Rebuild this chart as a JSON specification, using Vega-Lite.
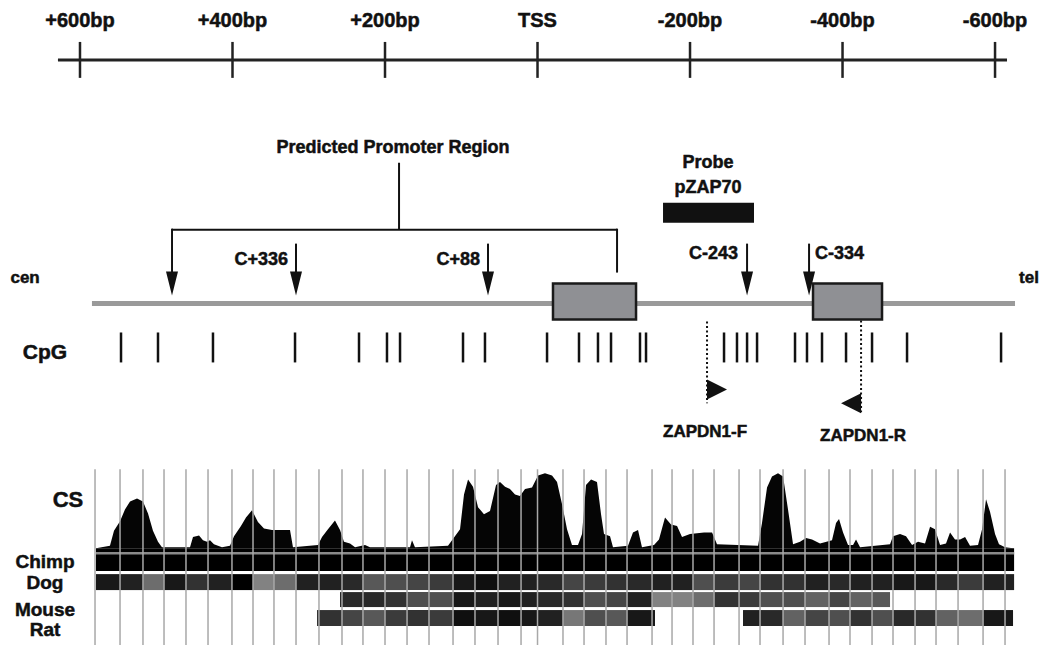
{
"$schema": "https://vega.github.io/schema/vega-lite/v6.json",
"width": 1043, "height": 646,
"autosize": {"type": "fit", "contains": "padding"},
"padding": 0,
"background": "white",
"config": {"view": {"stroke": null}, "text": {"font": "Liberation Sans", "fontWeight": "bold", "color": "#111", "baseline": "alphabetic", "stroke": "#111", "strokeWidth": 0.5}},
"datasets": {
 "ruler": [{"from": 628.9, "to": -615.7}],
 "scale_ticks": [{"bp":600,"label":"+600bp"},{"bp":400,"label":"+400bp"},{"bp":200,"label":"+200bp"},{"bp":0,"label":"TSS"},{"bp":-200,"label":"-200bp"},{"bp":-400,"label":"-400bp"},{"bp":-600,"label":"-600bp"}],
 "promoter": [{"start": 479.3, "end": -104.3, "mid": 181.6, "label_bp": 189.5, "label": "Predicted Promoter Region"}],
 "sites": [{"bp":316.7,"label":"C+336"},{"bp":64.9,"label":"C+88"},{"bp":-274.8,"label":"C-243"},{"bp":-356.1,"label":"C-334"}],
 "probe": [{"start": -164.6, "end": -283.9, "mid": -223.6, "title": "Probe", "name": "pZAP70"}],
 "gene": [{"start": 584.3, "end": -626.2}],
 "exons": [{"start": -20.3, "end": -129.2, "exon": 1}, {"start": -361.3, "end": -451.8, "exon": 2}],
 "ends": [{"bp": 672.0, "label": "cen"}, {"bp": -644.6, "label": "tel"}],
 "cpg": [{"bp":546.2},{"bp":497.7},{"bp":425.6},{"bp":318.0},{"bp":234.1},{"bp":197.4},{"bp":180.3},{"bp":97.7},{"bp":68.9},{"bp":-12.5},{"bp":-54.4},{"bp":-79.3},{"bp":-96.4},{"bp":-134.4},{"bp":-142.3},{"bp":-244.6},{"bp":-261.6},{"bp":-274.8},{"bp":-287.9},{"bp":-337.7},{"bp":-353.4},{"bp":-373.1},{"bp":-404.6},{"bp":-438.7},{"bp":-484.6},{"bp":-607.9}],
 "primers": [{"name":"ZAPDN1-F","bp":-222.3,"label_bp":-219.7},{"name":"ZAPDN1-R","bp":-424.3,"label_bp":-426.9}],
 "tracks": [{"label":"CpG","bp":645.9},{"label":"CS","bp":615.7},{"label":"Chimp","bp":645.9},{"label":"Dog","bp":645.9},{"label":"Mouse","bp":645.9},{"label":"Rat","bp":645.9}],
 "bands": [
  {"species":"Chimp","start":579.0,"end":-625.0,"identity":1},
  {"species":"Dog","start":579.0,"end":547.5,"identity":0.9},{"species":"Dog","start":547.5,"end":517.4,"identity":0.85},{"species":"Dog","start":517.4,"end":489.8,"identity":0.45},{"species":"Dog","start":489.8,"end":461.0,"identity":0.9},{"species":"Dog","start":461.0,"end":432.1,"identity":0.75},{"species":"Dog","start":432.1,"end":400.7,"identity":0.85},{"species":"Dog","start":400.7,"end":373.1,"identity":1.0},{"species":"Dog","start":373.1,"end":345.6,"identity":0.35},{"species":"Dog","start":345.6,"end":316.7,"identity":0.45},{"species":"Dog","start":316.7,"end":286.6,"identity":0.85},{"species":"Dog","start":286.6,"end":256.4,"identity":0.85},{"species":"Dog","start":256.4,"end":228.9,"identity":0.8},{"species":"Dog","start":228.9,"end":200.0,"identity":0.55},{"species":"Dog","start":200.0,"end":171.1,"identity":0.6},{"species":"Dog","start":171.1,"end":142.3,"identity":0.65},{"species":"Dog","start":142.3,"end":110.8,"identity":0.7},{"species":"Dog","start":110.8,"end":82.0,"identity":0.9},{"species":"Dog","start":82.0,"end":51.8,"identity":0.95},{"species":"Dog","start":51.8,"end":21.6,"identity":0.85},{"species":"Dog","start":21.6,"end":0,"identity":0.85},{"species":"Dog","start":0,"end":-33.4,"identity":0.8},{"species":"Dog","start":-33.4,"end":-61.0,"identity":0.65},{"species":"Dog","start":-61.0,"end":-89.8,"identity":0.7},{"species":"Dog","start":-89.8,"end":-117.4,"identity":0.75},{"species":"Dog","start":-117.4,"end":-150.2,"identity":0.8},{"species":"Dog","start":-150.2,"end":-176.4,"identity":0.85},{"species":"Dog","start":-176.4,"end":-203.9,"identity":0.85},{"species":"Dog","start":-203.9,"end":-231.5,"identity":0.6},{"species":"Dog","start":-231.5,"end":-264.3,"identity":0.7},{"species":"Dog","start":-264.3,"end":-291.8,"identity":0.65},{"species":"Dog","start":-291.8,"end":-322.0,"identity":0.75},{"species":"Dog","start":-322.0,"end":-350.8,"identity":0.75},{"species":"Dog","start":-350.8,"end":-382.3,"identity":0.85},{"species":"Dog","start":-382.3,"end":-409.8,"identity":0.8},{"species":"Dog","start":-409.8,"end":-438.7,"identity":0.85},{"species":"Dog","start":-438.7,"end":-466.2,"identity":0.85},{"species":"Dog","start":-466.2,"end":-495.1,"identity":0.9},{"species":"Dog","start":-495.1,"end":-522.6,"identity":0.9},{"species":"Dog","start":-522.6,"end":-551.5,"identity":0.8},{"species":"Dog","start":-551.5,"end":-584.3,"identity":0.7},{"species":"Dog","start":-584.3,"end":-613.1,"identity":0.85},{"species":"Dog","start":-613.1,"end":-625.0,"identity":0.85},
  {"species":"Mouse","start":259.0,"end":228.9,"identity":0.8},{"species":"Mouse","start":228.9,"end":200.0,"identity":0.8},{"species":"Mouse","start":200.0,"end":171.1,"identity":0.75},{"species":"Mouse","start":171.1,"end":142.3,"identity":0.6},{"species":"Mouse","start":142.3,"end":110.8,"identity":0.6},{"species":"Mouse","start":110.8,"end":82.0,"identity":0.9},{"species":"Mouse","start":82.0,"end":51.8,"identity":0.85},{"species":"Mouse","start":51.8,"end":21.6,"identity":0.9},{"species":"Mouse","start":21.6,"end":0,"identity":0.85},{"species":"Mouse","start":0,"end":-33.4,"identity":0.8},{"species":"Mouse","start":-33.4,"end":-61.0,"identity":0.75},{"species":"Mouse","start":-61.0,"end":-89.8,"identity":0.6},{"species":"Mouse","start":-89.8,"end":-117.4,"identity":0.65},{"species":"Mouse","start":-117.4,"end":-150.2,"identity":0.85},{"species":"Mouse","start":-150.2,"end":-176.4,"identity":0.35},{"species":"Mouse","start":-176.4,"end":-203.9,"identity":0.35},{"species":"Mouse","start":-203.9,"end":-231.5,"identity":0.45},{"species":"Mouse","start":-231.5,"end":-264.3,"identity":0.75},{"species":"Mouse","start":-264.3,"end":-291.8,"identity":0.7},{"species":"Mouse","start":-291.8,"end":-322.0,"identity":0.6},{"species":"Mouse","start":-322.0,"end":-350.8,"identity":0.6},{"species":"Mouse","start":-350.8,"end":-382.3,"identity":0.5},{"species":"Mouse","start":-382.3,"end":-409.8,"identity":0.65},{"species":"Mouse","start":-409.8,"end":-438.7,"identity":0.5},{"species":"Mouse","start":-438.7,"end":-462.3,"identity":0.55},
  {"species":"Rat","start":289.2,"end":256.4,"identity":0.75},{"species":"Rat","start":256.4,"end":228.9,"identity":0.65},{"species":"Rat","start":228.9,"end":200.0,"identity":0.55},{"species":"Rat","start":200.0,"end":171.1,"identity":0.7},{"species":"Rat","start":171.1,"end":142.3,"identity":0.75},{"species":"Rat","start":142.3,"end":110.8,"identity":0.7},{"species":"Rat","start":110.8,"end":82.0,"identity":0.95},{"species":"Rat","start":82.0,"end":51.8,"identity":0.9},{"species":"Rat","start":51.8,"end":21.6,"identity":0.95},{"species":"Rat","start":21.6,"end":0,"identity":0.9},{"species":"Rat","start":0,"end":-33.4,"identity":0.85},{"species":"Rat","start":-33.4,"end":-61.0,"identity":0.4},{"species":"Rat","start":-61.0,"end":-89.8,"identity":0.6},{"species":"Rat","start":-89.8,"end":-117.4,"identity":0.55},{"species":"Rat","start":-117.4,"end":-154.1,"identity":0.9},
  {"species":"Rat","start":-269.5,"end":-291.8,"identity":0.85},{"species":"Rat","start":-291.8,"end":-322.0,"identity":0.8},{"species":"Rat","start":-322.0,"end":-350.8,"identity":0.5},{"species":"Rat","start":-350.8,"end":-382.3,"identity":0.65},{"species":"Rat","start":-382.3,"end":-409.8,"identity":0.6},{"species":"Rat","start":-409.8,"end":-438.7,"identity":0.75},{"species":"Rat","start":-438.7,"end":-466.2,"identity":0.6},{"species":"Rat","start":-466.2,"end":-495.1,"identity":0.8},{"species":"Rat","start":-495.1,"end":-522.6,"identity":0.75},{"species":"Rat","start":-522.6,"end":-551.5,"identity":0.5},{"species":"Rat","start":-551.5,"end":-584.3,"identity":0.45},{"species":"Rat","start":-584.3,"end":-613.1,"identity":0.9},{"species":"Rat","start":-613.1,"end":-623.6,"identity":0.9}
 ],
 "cs": [{"bp":579.0,"score":0.0},{"bp":560.7,"score":0.03},{"bp":555.4,"score":0.22},{"bp":547.5,"score":0.34},{"bp":541.0,"score":0.49},{"bp":534.4,"score":0.59},{"bp":525.2,"score":0.63},{"bp":517.4,"score":0.59},{"bp":510.8,"score":0.44},{"bp":504.3,"score":0.22},{"bp":497.7,"score":0.08},{"bp":492.5,"score":0.01},{"bp":455.7,"score":0.01},{"bp":451.8,"score":0.14},{"bp":443.9,"score":0.16},{"bp":438.7,"score":0.10},{"bp":433.4,"score":0.08},{"bp":429.5,"score":0.10},{"bp":424.3,"score":0.05},{"bp":413.8,"score":0.01},{"bp":403.3,"score":0.03},{"bp":398.0,"score":0.15},{"bp":388.9,"score":0.28},{"bp":382.3,"score":0.39},{"bp":374.4,"score":0.48},{"bp":366.6,"score":0.33},{"bp":358.7,"score":0.25},{"bp":348.2,"score":0.23},{"bp":324.6,"score":0.23},{"bp":320.7,"score":0.01},{"bp":287.9,"score":0.04},{"bp":282.6,"score":0.14},{"bp":274.8,"score":0.24},{"bp":265.6,"score":0.35},{"bp":259.0,"score":0.23},{"bp":253.8,"score":0.08},{"bp":245.9,"score":0.06},{"bp":239.3,"score":0.01},{"bp":226.2,"score":0.04},{"bp":219.7,"score":0.01},{"bp":167.2,"score":0.01},{"bp":164.6,"score":0.10},{"bp":160.7,"score":0.01},{"bp":117.4,"score":0.03},{"bp":112.1,"score":0.10},{"bp":101.6,"score":0.24},{"bp":96.4,"score":0.68},{"bp":91.1,"score":0.87},{"bp":84.6,"score":0.78},{"bp":78.0,"score":0.52},{"bp":70.2,"score":0.43},{"bp":62.3,"score":0.47},{"bp":54.4,"score":0.80},{"bp":49.2,"score":0.84},{"bp":42.6,"score":0.78},{"bp":36.1,"score":0.75},{"bp":29.5,"score":0.68},{"bp":23.0,"score":0.66},{"bp":16.4,"score":0.75},{"bp":7.2,"score":0.77},{"bp":-0.7,"score":0.92},{"bp":-9.8,"score":0.95},{"bp":-19.0,"score":0.92},{"bp":-25.6,"score":0.84},{"bp":-32.1,"score":0.56},{"bp":-38.7,"score":0.24},{"bp":-45.2,"score":0.04},{"bp":-53.1,"score":0.04},{"bp":-58.4,"score":0.18},{"bp":-63.6,"score":0.80},{"bp":-70.2,"score":0.87},{"bp":-78.0,"score":0.84},{"bp":-83.3,"score":0.43},{"bp":-87.2,"score":0.18},{"bp":-95.1,"score":0.15},{"bp":-99.0,"score":0.01},{"bp":-118.7,"score":0.03},{"bp":-125.2,"score":0.20},{"bp":-131.8,"score":0.23},{"bp":-137.0,"score":0.01},{"bp":-152.8,"score":0.04},{"bp":-159.3,"score":0.11},{"bp":-167.2,"score":0.39},{"bp":-175.1,"score":0.30},{"bp":-183.0,"score":0.28},{"bp":-189.5,"score":0.14},{"bp":-200.0,"score":0.18},{"bp":-209.2,"score":0.19},{"bp":-218.4,"score":0.20},{"bp":-228.9,"score":0.20},{"bp":-235.4,"score":0.05},{"bp":-289.2,"score":0.03},{"bp":-294.4,"score":0.32},{"bp":-301.0,"score":0.77},{"bp":-307.5,"score":0.91},{"bp":-315.4,"score":0.95},{"bp":-322.0,"score":0.91},{"bp":-328.5,"score":0.49},{"bp":-335.1,"score":0.05},{"bp":-344.3,"score":0.08},{"bp":-352.1,"score":0.13},{"bp":-360.0,"score":0.11},{"bp":-370.5,"score":0.06},{"bp":-386.2,"score":0.10},{"bp":-391.5,"score":0.32},{"bp":-395.4,"score":0.37},{"bp":-400.7,"score":0.20},{"bp":-407.2,"score":0.04},{"bp":-413.8,"score":0.04},{"bp":-417.7,"score":0.11},{"bp":-423.0,"score":0.01},{"bp":-462.3,"score":0.05},{"bp":-466.2,"score":0.15},{"bp":-475.4,"score":0.18},{"bp":-483.3,"score":0.15},{"bp":-491.2,"score":0.04},{"bp":-499.0,"score":0.08},{"bp":-508.2,"score":0.06},{"bp":-514.8,"score":0.27},{"bp":-521.3,"score":0.24},{"bp":-527.9,"score":0.04},{"bp":-535.7,"score":0.06},{"bp":-541.0,"score":0.20},{"bp":-547.5,"score":0.11},{"bp":-554.1,"score":0.11},{"bp":-560.7,"score":0.14},{"bp":-567.2,"score":0.03},{"bp":-577.7,"score":0.04},{"bp":-583.0,"score":0.24},{"bp":-588.2,"score":0.62},{"bp":-593.4,"score":0.46},{"bp":-600.0,"score":0.18},{"bp":-605.2,"score":0.05},{"bp":-613.1,"score":0.01},{"bp":-623.6,"score":0.0}],
 "grid": [{"bp":580.3},{"bp":547.5},{"bp":517.4},{"bp":489.8},{"bp":461.0},{"bp":432.1},{"bp":400.7},{"bp":373.1},{"bp":345.6},{"bp":316.7},{"bp":286.6},{"bp":256.4},{"bp":228.9},{"bp":200.0},{"bp":171.1},{"bp":142.3},{"bp":110.8},{"bp":82.0},{"bp":51.8},{"bp":21.6},{"bp":0},{"bp":-33.4},{"bp":-61.0},{"bp":-89.8},{"bp":-117.4},{"bp":-150.2},{"bp":-176.4},{"bp":-203.9},{"bp":-231.5},{"bp":-264.3},{"bp":-291.8},{"bp":-322.0},{"bp":-350.8},{"bp":-382.3},{"bp":-409.8},{"bp":-438.7},{"bp":-466.2},{"bp":-495.1},{"bp":-522.6},{"bp":-551.5},{"bp":-584.3},{"bp":-613.1}]
},
"resolve": {"scale": {"y": "independent"}},
"layer": [
 {"layer": [
  {"data": {"name": "ruler"}, "mark": {"type": "rule", "color": "#222", "strokeWidth": 3},
   "encoding": {"x": {"field": "from", "type": "quantitative", "scale": {"domain": [-662.9, 704.9], "reverse": true, "nice": false, "zero": false}, "axis": null}, "x2": {"field": "to"},
    "y": {"datum": 60, "type": "quantitative", "scale": {"domain": [0, 646], "reverse": true, "nice": false, "zero": false}, "axis": null}}},
  {"data": {"name": "scale_ticks"}, "mark": {"type": "rule", "color": "#222", "strokeWidth": 2.5},
   "encoding": {"x": {"field": "bp", "type": "quantitative", "axis": null}, "y": {"datum": 42, "type": "quantitative", "axis": null}, "y2": {"datum": 78}}},
  {"data": {"name": "scale_ticks"}, "mark": {"type": "text", "fontSize": 20, "align": "center"},
   "encoding": {"x": {"field": "bp", "type": "quantitative", "axis": null}, "y": {"datum": 27, "type": "quantitative", "axis": null}, "text": {"field": "label"}}},
  {"data": {"name": "promoter"}, "mark": {"type": "rule", "color": "#111", "strokeWidth": 2},
   "encoding": {"x": {"field": "start", "type": "quantitative", "axis": null}, "x2": {"field": "end"}, "y": {"datum": 230, "type": "quantitative", "axis": null}}},
  {"data": {"name": "promoter"}, "mark": {"type": "rule", "color": "#111", "strokeWidth": 2},
   "encoding": {"x": {"field": "mid", "type": "quantitative", "axis": null}, "y": {"datum": 163, "type": "quantitative", "axis": null}, "y2": {"datum": 230}}},
  {"data": {"name": "promoter"}, "mark": {"type": "rule", "color": "#111", "strokeWidth": 2},
   "encoding": {"x": {"field": "start", "type": "quantitative", "axis": null}, "y": {"datum": 229, "type": "quantitative", "axis": null}, "y2": {"datum": 280}}},
  {"data": {"name": "promoter"}, "mark": {"type": "point", "shape": "M-0.5,-1L0.5,-1L0,1Z", "filled": true, "size": 576, "color": "#111", "opacity": 1, "strokeWidth": 0},
   "encoding": {"x": {"field": "start", "type": "quantitative", "axis": null}, "y": {"datum": 284, "type": "quantitative", "axis": null}}},
  {"data": {"name": "promoter"}, "mark": {"type": "rule", "color": "#111", "strokeWidth": 2},
   "encoding": {"x": {"field": "end", "type": "quantitative", "axis": null}, "y": {"datum": 229, "type": "quantitative", "axis": null}, "y2": {"datum": 273}}},
  {"data": {"name": "promoter"}, "mark": {"type": "text", "fontSize": 18, "align": "center"},
   "encoding": {"x": {"field": "label_bp", "type": "quantitative", "axis": null}, "y": {"datum": 153, "type": "quantitative", "axis": null}, "text": {"field": "label"}}},
  {"data": {"name": "sites"}, "mark": {"type": "rule", "color": "#111", "strokeWidth": 2},
   "encoding": {"x": {"field": "bp", "type": "quantitative", "axis": null}, "y": {"datum": 244, "type": "quantitative", "axis": null}, "y2": {"datum": 280}}},
  {"data": {"name": "sites"}, "mark": {"type": "point", "shape": "M-0.5,-1L0.5,-1L0,1Z", "filled": true, "size": 576, "color": "#111", "opacity": 1, "strokeWidth": 0},
   "encoding": {"x": {"field": "bp", "type": "quantitative", "axis": null}, "y": {"datum": 284, "type": "quantitative", "axis": null}}},
  {"data": {"name": "sites"}, "transform": [{"filter": "datum.label == 'C+336' || datum.label == 'C+88'"}], "mark": {"type": "text", "fontSize": 18, "align": "right", "dx": -8},
   "encoding": {"x": {"field": "bp", "type": "quantitative", "axis": null}, "y": {"datum": 265, "type": "quantitative", "axis": null}, "text": {"field": "label"}}},
  {"data": {"name": "sites"}, "transform": [{"filter": "datum.label == 'C-243'"}], "mark": {"type": "text", "fontSize": 18, "align": "right", "dx": -9},
   "encoding": {"x": {"field": "bp", "type": "quantitative", "axis": null}, "y": {"datum": 259, "type": "quantitative", "axis": null}, "text": {"field": "label"}}},
  {"data": {"name": "sites"}, "transform": [{"filter": "datum.label == 'C-334'"}], "mark": {"type": "text", "fontSize": 18, "align": "left", "dx": 6},
   "encoding": {"x": {"field": "bp", "type": "quantitative", "axis": null}, "y": {"datum": 259, "type": "quantitative", "axis": null}, "text": {"field": "label"}}},
  {"data": {"name": "probe"}, "mark": {"type": "rect", "color": "#111"},
   "encoding": {"x": {"field": "start", "type": "quantitative", "axis": null}, "x2": {"field": "end"}, "y": {"datum": 203, "type": "quantitative", "axis": null}, "y2": {"datum": 223}}},
  {"data": {"name": "probe"}, "mark": {"type": "text", "fontSize": 18, "align": "center"},
   "encoding": {"x": {"field": "mid", "type": "quantitative", "axis": null}, "y": {"datum": 168, "type": "quantitative", "axis": null}, "text": {"field": "title"}}},
  {"data": {"name": "probe"}, "mark": {"type": "text", "fontSize": 18, "align": "center"},
   "encoding": {"x": {"field": "mid", "type": "quantitative", "axis": null}, "y": {"datum": 193, "type": "quantitative", "axis": null}, "text": {"field": "name"}}},
  {"data": {"name": "gene"}, "mark": {"type": "rule", "color": "#9a9a9a", "strokeWidth": 5},
   "encoding": {"x": {"field": "start", "type": "quantitative", "axis": null}, "x2": {"field": "end"}, "y": {"datum": 304, "type": "quantitative", "axis": null}}},
  {"data": {"name": "exons"}, "mark": {"type": "rect", "fill": "#8f9094", "stroke": "#1a1a1a", "strokeWidth": 2.5},
   "encoding": {"x": {"field": "start", "type": "quantitative", "axis": null}, "x2": {"field": "end"}, "y": {"datum": 284, "type": "quantitative", "axis": null}, "y2": {"datum": 320}}},
  {"data": {"name": "ends"}, "mark": {"type": "text", "fontSize": 17, "align": "center"},
   "encoding": {"x": {"field": "bp", "type": "quantitative", "axis": null}, "y": {"datum": 283, "type": "quantitative", "axis": null}, "text": {"field": "label"}}},
  {"data": {"name": "cpg"}, "mark": {"type": "rule", "color": "#111", "strokeWidth": 2.5},
   "encoding": {"x": {"field": "bp", "type": "quantitative", "axis": null}, "y": {"datum": 333, "type": "quantitative", "axis": null}, "y2": {"datum": 363}}},
  {"data": {"name": "primers"}, "transform": [{"filter": "datum.name == 'ZAPDN1-F'"}], "mark": {"type": "rule", "color": "#111", "strokeWidth": 2, "strokeDash": [2, 2.5]},
   "encoding": {"x": {"field": "bp", "type": "quantitative", "axis": null}, "y": {"datum": 322, "type": "quantitative", "axis": null}, "y2": {"datum": 404}}},
  {"data": {"name": "primers"}, "transform": [{"filter": "datum.name == 'ZAPDN1-R'"}], "mark": {"type": "rule", "color": "#111", "strokeWidth": 2, "strokeDash": [2, 2.5]},
   "encoding": {"x": {"field": "bp", "type": "quantitative", "axis": null}, "y": {"datum": 321, "type": "quantitative", "axis": null}, "y2": {"datum": 413}}},
  {"data": {"name": "primers"}, "transform": [{"filter": "datum.name == 'ZAPDN1-F'"}], "mark": {"type": "point", "shape": "M0,-1L2,0L0,1Z", "filled": true, "size": 400, "color": "#111", "opacity": 1, "strokeWidth": 0},
   "encoding": {"x": {"field": "bp", "type": "quantitative", "axis": null}, "y": {"datum": 390, "type": "quantitative", "axis": null}}},
  {"data": {"name": "primers"}, "transform": [{"filter": "datum.name == 'ZAPDN1-R'"}], "mark": {"type": "point", "shape": "M0,-1L-2,0L0,1Z", "filled": true, "size": 400, "color": "#111", "opacity": 1, "strokeWidth": 0},
   "encoding": {"x": {"field": "bp", "type": "quantitative", "axis": null}, "y": {"datum": 404, "type": "quantitative", "axis": null}}},
  {"data": {"name": "primers"}, "transform": [{"filter": "datum.name == 'ZAPDN1-F'"}], "mark": {"type": "text", "fontSize": 17, "align": "center"},
   "encoding": {"x": {"field": "label_bp", "type": "quantitative", "axis": null}, "y": {"datum": 438, "type": "quantitative", "axis": null}, "text": {"field": "name"}}},
  {"data": {"name": "primers"}, "transform": [{"filter": "datum.name == 'ZAPDN1-R'"}], "mark": {"type": "text", "fontSize": 17, "align": "center"},
   "encoding": {"x": {"field": "label_bp", "type": "quantitative", "axis": null}, "y": {"datum": 442, "type": "quantitative", "axis": null}, "text": {"field": "name"}}},
  {"data": {"name": "bands"}, "transform": [{"filter": "datum.species == 'Chimp'"}], "mark": {"type": "rect"},
   "encoding": {"x": {"field": "start", "type": "quantitative", "axis": null}, "x2": {"field": "end"}, "y": {"datum": 549, "type": "quantitative", "axis": null}, "y2": {"datum": 572},
    "color": {"field": "identity", "type": "quantitative", "scale": {"domain": [0, 1], "range": ["#d0d0d0", "#000000"]}, "legend": null}}},
  {"data": {"name": "bands"}, "transform": [{"filter": "datum.species == 'Chimp'"}], "mark": {"type": "rule", "color": "#8a8a8a", "strokeWidth": 2.5},
   "encoding": {"x": {"field": "start", "type": "quantitative", "axis": null}, "x2": {"field": "end"}, "y": {"datum": 554, "type": "quantitative", "axis": null}}},
  {"data": {"name": "bands"}, "transform": [{"filter": "datum.species == 'Dog'"}], "mark": {"type": "rect"},
   "encoding": {"x": {"field": "start", "type": "quantitative", "axis": null}, "x2": {"field": "end"}, "y": {"datum": 575, "type": "quantitative", "axis": null}, "y2": {"datum": 591},
    "color": {"field": "identity", "type": "quantitative", "scale": {"domain": [0, 1], "range": ["#d0d0d0", "#000000"]}, "legend": null}}},
  {"data": {"name": "bands"}, "transform": [{"filter": "datum.species == 'Mouse'"}], "mark": {"type": "rect"},
   "encoding": {"x": {"field": "start", "type": "quantitative", "axis": null}, "x2": {"field": "end"}, "y": {"datum": 593, "type": "quantitative", "axis": null}, "y2": {"datum": 608},
    "color": {"field": "identity", "type": "quantitative", "scale": {"domain": [0, 1], "range": ["#d0d0d0", "#000000"]}, "legend": null}}},
  {"data": {"name": "bands"}, "transform": [{"filter": "datum.species == 'Rat'"}], "mark": {"type": "rect"},
   "encoding": {"x": {"field": "start", "type": "quantitative", "axis": null}, "x2": {"field": "end"}, "y": {"datum": 611, "type": "quantitative", "axis": null}, "y2": {"datum": 627},
    "color": {"field": "identity", "type": "quantitative", "scale": {"domain": [0, 1], "range": ["#d0d0d0", "#000000"]}, "legend": null}}},
  {"data": {"name": "tracks"}, "transform": [{"filter": "datum.label == 'CpG'"}], "mark": {"type": "text", "fontSize": 21, "align": "center"},
   "encoding": {"x": {"field": "bp", "type": "quantitative", "axis": null}, "y": {"datum": 360, "type": "quantitative", "axis": null}, "text": {"field": "label"}}},
  {"data": {"name": "tracks"}, "transform": [{"filter": "datum.label == 'CS'"}], "mark": {"type": "text", "fontSize": 22, "align": "center"},
   "encoding": {"x": {"field": "bp", "type": "quantitative", "axis": null}, "y": {"datum": 508, "type": "quantitative", "axis": null}, "text": {"field": "label"}}},
  {"data": {"name": "tracks"}, "transform": [{"filter": "datum.label == 'Chimp'"}], "mark": {"type": "text", "fontSize": 19, "align": "center"},
   "encoding": {"x": {"field": "bp", "type": "quantitative", "axis": null}, "y": {"datum": 569, "type": "quantitative", "axis": null}, "text": {"field": "label"}}},
  {"data": {"name": "tracks"}, "transform": [{"filter": "datum.label == 'Dog'"}], "mark": {"type": "text", "fontSize": 19, "align": "center"},
   "encoding": {"x": {"field": "bp", "type": "quantitative", "axis": null}, "y": {"datum": 590, "type": "quantitative", "axis": null}, "text": {"field": "label"}}},
  {"data": {"name": "tracks"}, "transform": [{"filter": "datum.label == 'Mouse'"}], "mark": {"type": "text", "fontSize": 19, "align": "center"},
   "encoding": {"x": {"field": "bp", "type": "quantitative", "axis": null}, "y": {"datum": 617, "type": "quantitative", "axis": null}, "text": {"field": "label"}}},
  {"data": {"name": "tracks"}, "transform": [{"filter": "datum.label == 'Rat'"}], "mark": {"type": "text", "fontSize": 19, "align": "center"},
   "encoding": {"x": {"field": "bp", "type": "quantitative", "axis": null}, "y": {"datum": 637, "type": "quantitative", "axis": null}, "text": {"field": "label"}}}
 ]},
 {"data": {"name": "cs"}, "mark": {"type": "area", "color": "#050505", "interpolate": "linear"},
  "encoding": {"x": {"field": "bp", "type": "quantitative", "axis": null},
   "y": {"field": "score", "type": "quantitative", "scale": {"domain": [-1.2278, 6.9494], "nice": false, "zero": false}, "axis": null}, "y2": {"datum": 0}}},
 {"data": {"name": "grid"}, "mark": {"type": "rule", "color": "#a8a8a8", "strokeWidth": 1.5},
  "encoding": {"x": {"field": "bp", "type": "quantitative", "axis": null},
   "y": {"datum": 470, "type": "quantitative", "scale": {"domain": [0, 646], "reverse": true, "nice": false, "zero": false}, "axis": null}, "y2": {"datum": 646}}}
]
}
